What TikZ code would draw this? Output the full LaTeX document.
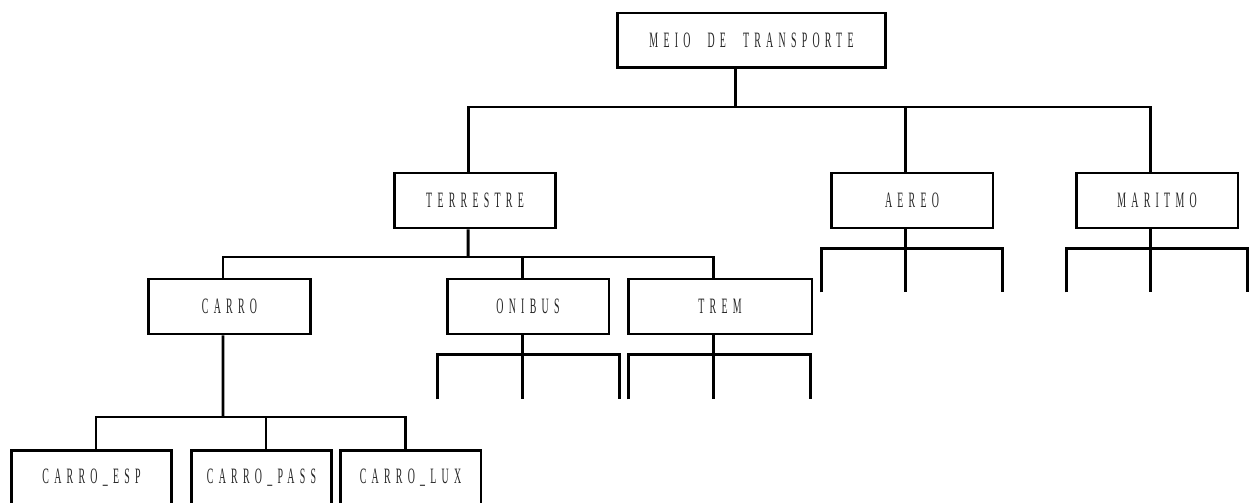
\documentclass[tikz,border=0pt]{standalone}
\usepackage{fontspec}
\usepackage{tikz}
\usetikzlibrary{positioning, calc}
\newfontfamily\boxfont[FakeStretch=0.45, LetterSpace=24, WordSpace=2.2]{Liberation Serif}

\begin{document}
\begin{tikzpicture}[
    x=0.02cm, y=-0.02cm,
    box/.style={draw, line width=1.7pt, minimum height=1.1cm, inner sep=0pt, text=black!85, font=\boxfont\fontsize{12.5pt}{14pt}\selectfont},
    link/.style={line width=1.7pt}
]
\clip (0,0) rectangle (1250,503);

% Root
\node[box, minimum width=5.38cm] (meio) at (751.5,40.5) {MEIO DE TRANSPORTE};

% Second level
\node[box, minimum width=3.24cm] (terrestre) at (475,200.5) {TERRESTRE};
\node[box, minimum width=3.24cm] (aereo) at (912,200.5) {AEREO};
\node[box, minimum width=3.24cm] (maritmo) at (1157,200.5) {MARITMO};

% Third level
\node[box, minimum width=3.26cm] (carro) at (229.5,306.5) {CARRO};
\node[box, minimum width=3.24cm] (onibus) at (528,306.5) {ONIBUS};
\node[box, minimum width=3.68cm] (trem) at (720,306.5) {TREM};

% Fourth level
\node[box, minimum width=3.22cm, anchor=north] (carroesp) at (91.5,449) {CARRO\_ESP};
\node[box, minimum width=2.82cm, anchor=north] (carropass) at (261.5,449) {CARRO\_PASS};
\node[box, minimum width=2.82cm, anchor=north] (carrolux) at (410.5,449) {CARRO\_LUX};

% Junctions
\coordinate (top) at (735,107);
\coordinate (mid) at (468,257);
\coordinate (low) at (223,417);

% Root to second level
\draw[link] (meio.south -| top) -- (top);
\draw[link] ([xshift=-0.14cm]terrestre.north) |- (top) -| ([xshift=-0.14cm]maritmo.north);
\draw[link] ([xshift=-0.14cm]aereo.north) -- ([xshift=-0.14cm]aereo.north |- top);

% Terrestre to third level
\draw[link] ([xshift=-0.14cm]terrestre.south) -- (mid);
\draw[link] ([xshift=-0.13cm]carro.north) |- (mid) -| ([xshift=-0.14cm]trem.north);
\draw[link] ([xshift=-0.12cm]onibus.north) -- ([xshift=-0.12cm]onibus.north |- mid);

% Carro to fourth level
\draw[link] ([xshift=-0.13cm]carro.south) -- (low);
\draw[link] ([xshift=0.09cm]carroesp.north) |- (low) -| ([xshift=-0.1cm]carrolux.north);
\draw[link] ([xshift=0.09cm]carropass.north) -- ([xshift=0.09cm]carropass.north |- low);

% Open forks
\draw[link] ([xshift=-0.12cm]onibus.south) -- ++(0,64)
    ([xshift=-1.82cm]onibus.south) ++(0,64) |- ++(182,-45) -- ++(0,45);
\draw[link] ([xshift=-0.14cm]trem.south) -- ++(0,64)
    ([xshift=-1.84cm]trem.south) ++(0,64) |- ++(182,-45) -- ++(0,45);
\draw[link] ([xshift=-0.14cm]aereo.south) -- ++(0,63)
    ([xshift=-1.82cm]aereo.south) ++(0,63) |- ++(181,-44) -- ++(0,44);
\draw[link] ([xshift=-0.14cm]maritmo.south) -- ++(0,63)
    ([xshift=-1.82cm]maritmo.south) ++(0,63) |- ++(181,-44) -- ++(0,44);
\end{tikzpicture}
\end{document}
